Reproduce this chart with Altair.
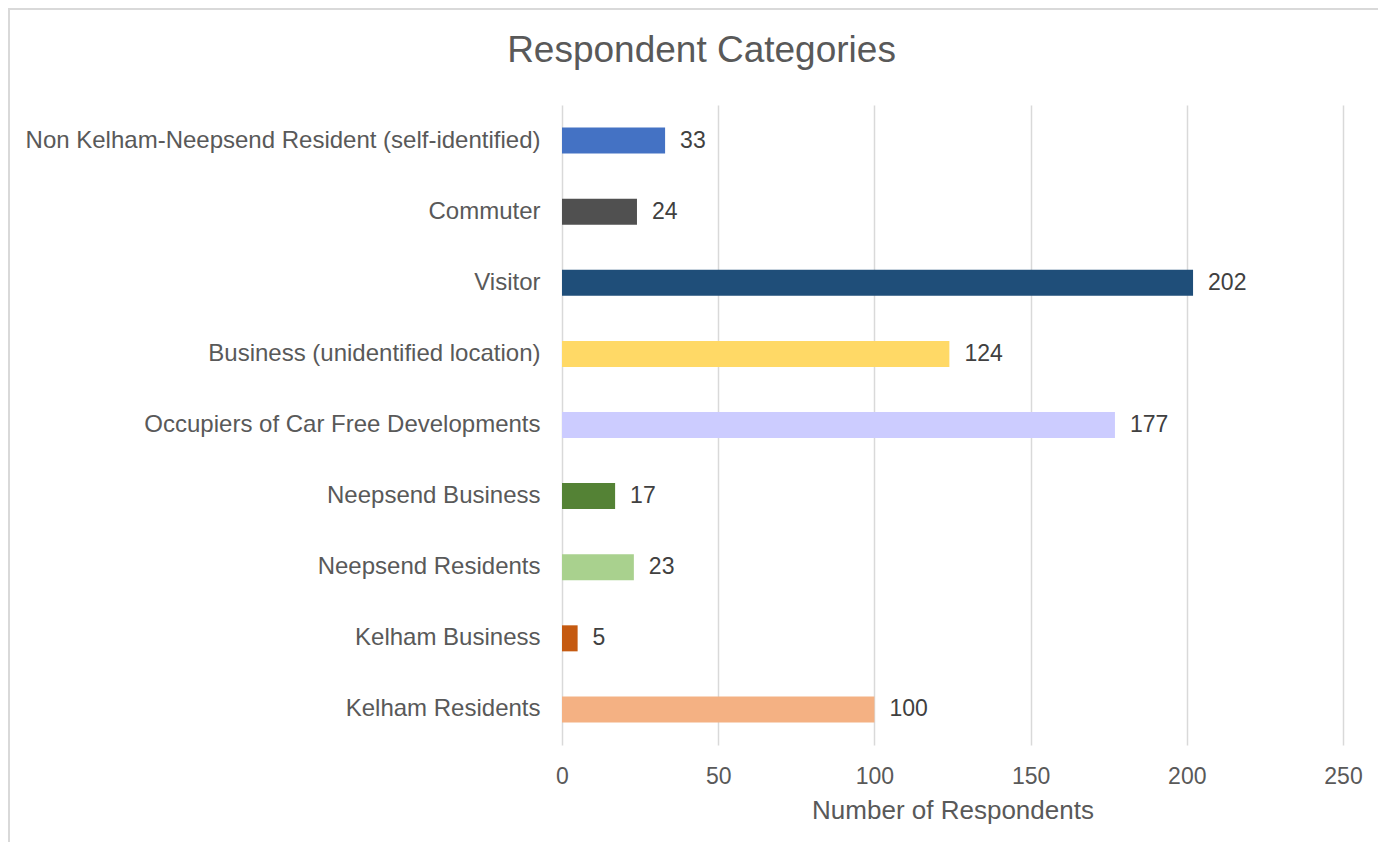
import altair as alt
import pandas as pd

categories = [
    "Non Kelham-Neepsend Resident (self-identified)",
    "Commuter",
    "Visitor",
    "Business (unidentified location)",
    "Occupiers of Car Free Developments",
    "Neepsend Business",
    "Neepsend Residents",
    "Kelham Business",
    "Kelham Residents",
]
values = [33, 24, 202, 124, 177, 17, 23, 5, 100]
colors = ["#4472C4", "#505050", "#1F4E79", "#FFD966", "#CCCCFF",
          "#548235", "#A9D18E", "#C55A11", "#F4B183"]

df = pd.DataFrame({"Category": categories, "Respondents": values, "Color": colors})

FONT = "Liberation Sans"
W, H = 781, 640

xscale = alt.Scale(domain=[0, 250], nice=False)

base = alt.Chart(df).encode(
    y=alt.Y("Category:N", sort=categories,
            scale=alt.Scale(paddingInner=0.634, paddingOuter=0.317),
            axis=alt.Axis(title=None, ticks=False, domain=False, labelPadding=22,
                          labelFontSize=24, labelColor="#595959", labelFont=FONT,
                          labelLimit=700)),
)

bars = base.mark_bar().encode(
    x=alt.X("Respondents:Q", scale=xscale,
            axis=alt.Axis(title="Number of Respondents", values=[0, 50, 100, 150, 200, 250],
                          ticks=False, domain=False, grid=True, gridColor="#d9d9d9",
                          gridWidth=1.5, labelPadding=20, labelFontSize=23,
                          labelFlush=False,
                          labelColor="#595959", labelFont=FONT, titleFontSize=26,
                          titleColor="#595959", titleFont=FONT, titleFontWeight="normal",
                          titlePadding=9)),
    color=alt.Color("Color:N", scale=None),
)

text = base.mark_text(align="left", baseline="middle", dx=15, fontSize=23,
                      font=FONT, color="#404040").encode(
    x=alt.X("Respondents:Q", scale=xscale),
    text="Respondents:Q",
)

frame = alt.Chart(df).mark_rect(filled=False, stroke="#d9d9d9", strokeWidth=2).encode(
    x=alt.value(-553), x2=alt.value(W + 80), y=alt.value(-96), y2=alt.value(H + 160)
)

chart = alt.layer(frame, bars, text).properties(
    width=W, height=H,
    autosize=alt.AutoSizeParams(type="none"),
    padding={"left": 554, "right": 35, "top": 97, "bottom": 97},
    title=alt.TitleParams("Respondent Categories", fontSize=37, font=FONT,
                          color="#595959", fontWeight="normal", anchor="middle",
                          dx=-251, offset=0, dy=62),
).configure_view(stroke=None)

chart.save("out.html", embed_options={"renderer": "svg", "actions": False})
